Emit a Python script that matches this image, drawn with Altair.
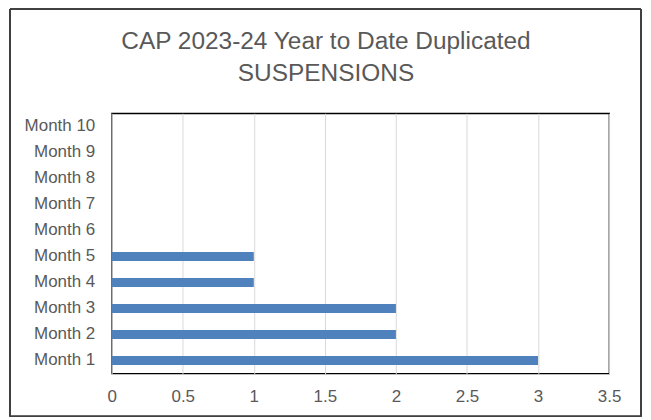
import altair as alt
import pandas as pd

months = ["Month 1", "Month 2", "Month 3", "Month 4", "Month 5",
          "Month 6", "Month 7", "Month 8", "Month 9", "Month 10"]
values = [3, 2, 2, 1, 1, 0, 0, 0, 0, 0]
x_ticks = [0, 0.5, 1, 1.5, 2, 2.5, 3, 3.5]
title_lines = ["CAP 2023-24 Year to Date Duplicated", "SUSPENSIONS"]

df = pd.DataFrame({"month": months, "value": values})

FONT = "Liberation Sans, Arial, sans-serif"
TXT = "#595959"

bars = alt.Chart(df).mark_bar(size=9, color="#4F81BD").encode(
    x=alt.X("value:Q",
            scale=alt.Scale(domain=[0, 3.5], nice=False),
            axis=alt.Axis(values=x_ticks, title=None, domain=False, ticks=False,
                          grid=True, gridColor="#D9D9D9", gridWidth=1,
                          labelPadding=15, labelFontSize=17, labelColor=TXT,
                          labelFont=FONT, format="~g", labelFlush=False)),
    y=alt.Y("month:N", sort=months[::-1],
            scale=alt.Scale(paddingInner=0, paddingOuter=0),
            axis=alt.Axis(title=None, domain=False, ticks=False, grid=False,
                          labelPadding=17, labelFontSize=17, labelColor=TXT,
                          labelFont=FONT,
                          labelExpr="datum.value == 'Month 1' ? 'Month 1\u00a0' : datum.value")),
)

frame = alt.Chart(df).mark_rect(fill=None, stroke="#404040", strokeWidth=1).encode(
    x=alt.value(-102), x2=alt.value(531), y=alt.value(-104.5), y2=alt.value(304)
)

tdf = pd.DataFrame({"line": title_lines, "row": [0, 1]})
title = alt.Chart(tdf).mark_text(font=FONT, fontSize=24.5, color=TXT,
                                 align="center", baseline="middle").encode(
    text="line:N",
    x=alt.value(215),
    y=alt.value(-72),
).transform_filter("datum.row == 0")
title2 = alt.Chart(tdf).mark_text(font=FONT, fontSize=24.5, color=TXT,
                                  align="center", baseline="middle").encode(
    text="line:N",
    x=alt.value(215),
    y=alt.value(-39),
).transform_filter("datum.row == 1")

chart = alt.layer(bars, frame, title, title2).properties(
    width=499, height=261,
    autosize=alt.AutoSizeParams(type="none"),
    padding={"left": 104, "top": 105, "right": 34, "bottom": 46},
).configure_view(stroke="black", strokeWidth=1.3)

chart.save("out.html", embed_options={"renderer": "svg", "actions": False})
